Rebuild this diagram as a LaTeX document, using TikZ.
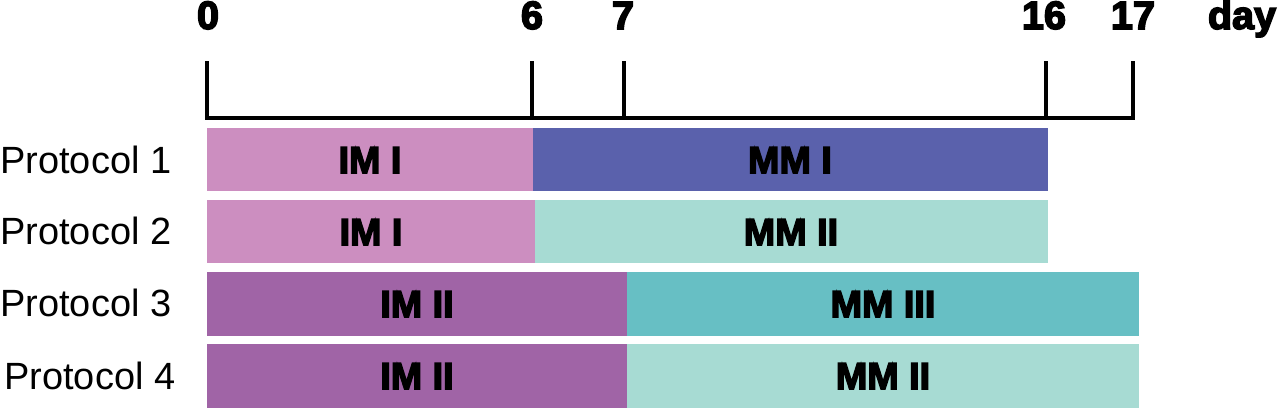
\documentclass[tikz,border=0pt]{standalone}
\usepackage{fontspec}
\setmainfont{Liberation Sans}
\newfontfamily\heavyfont[FakeBold=4]{Liberation Sans Bold}

\definecolor{imone}{RGB}{204,142,192}
\definecolor{imtwo}{RGB}{160,100,166}
\definecolor{mmone}{RGB}{90,97,172}
\definecolor{mmtwo}{RGB}{167,219,211}
\definecolor{mmthree}{RGB}{103,191,196}

\begin{document}
\begin{tikzpicture}[x=0.02cm,y=-0.02cm,
    axisline/.style={line width=2.8pt},
    daylbl/.style={anchor=base,font=\heavyfont\fontsize{22.5}{26}\selectfont},
    barlbl/.style={text=black,font=\heavyfont\fontsize{21.5}{24}\selectfont},
    protlbl/.style={anchor=west,inner sep=0pt,font=\fontsize{21.6}{26}\selectfont}]
  \useasboundingbox (0,0) rectangle (1280,409);

  % time axis
  \coordinate (t0) at (207,118);
  \coordinate (t6) at (532,118);
  \coordinate (t7) at (624,118);
  \coordinate (t16) at (1046,118);
  \coordinate (t17) at (1133,118);
  \node[daylbl] (d0) at (208,29) {0};
  \node[daylbl] (d6) at (532,29) {6};
  \node[daylbl] (d7) at (623,29) {7};
  \node[daylbl] (d16) at (1044,29) {16};
  \node[daylbl] (d17) at (1133,29) {17};
  \node[daylbl] (day) at (1242,29) {day};
  \draw[axisline,line cap=rect] (t0) -- (t17);
  \draw[axisline] (t0) -- +(0,-57);
  \draw[axisline] (t6) -- +(0,-57);
  \draw[axisline] (t7) -- +(0,-57);
  \draw[axisline] (t16) -- +(0,-57);
  \draw[axisline] (t17) -- +(0,-57);

  % protocols
  \node[protlbl] (p1) at (0,160) {Protocol 1};
  \node[protlbl] (p2) at (0,231) {Protocol 2};
  \node[protlbl] (p3) at (0,303) {Protocol 3};
  \node[protlbl] (p4) at (4,376) {Protocol 4};

  \fill[imone] (207,128) rectangle (533,191);
  \fill[mmone] (533,128) rectangle (1048,191);
  \fill[imone] (207,200) rectangle (535,263);
  \fill[mmtwo] (535,200) rectangle (1048,263);
  \fill[imtwo] (207,272) rectangle (627,336);
  \fill[mmthree] (627,272) rectangle (1139,336);
  \fill[imtwo] (207,344) rectangle (627,408);
  \fill[mmtwo] (627,344) rectangle (1139,408);
  \node[barlbl] (p1a) at (370,160) {IM I};
  \node[barlbl] (p1b) at (790,160) {MM I};
  \node[barlbl] (p2a) at (371,232) {IM I};
  \node[barlbl] (p2b) at (791,232) {MM II};
  \node[barlbl] (p3a) at (417,304) {IM II};
  \node[barlbl] (p3b) at (883,304) {MM III};
  \node[barlbl] (p4a) at (417,376) {IM II};
  \node[barlbl] (p4b) at (883,376) {MM II};
\end{tikzpicture}
\end{document}
